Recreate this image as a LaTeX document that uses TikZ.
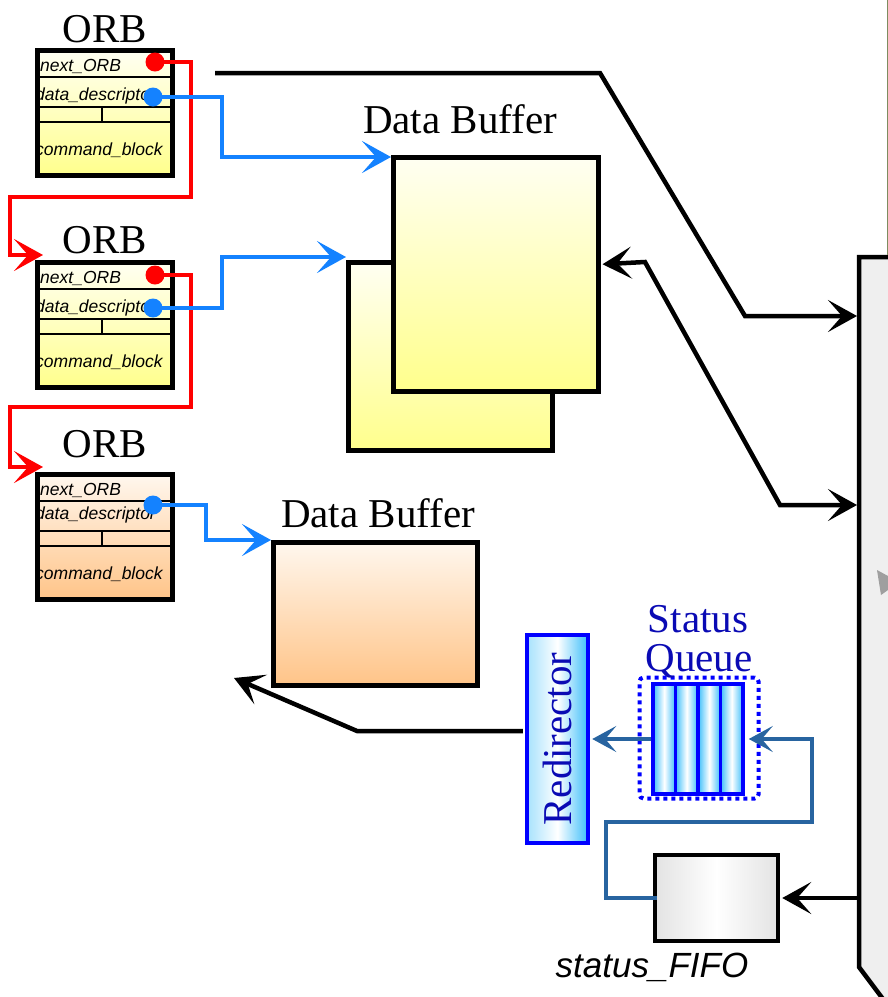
\documentclass[tikz,border=0pt]{standalone}
\usepackage{fontspec}
\setmainfont{Liberation Serif}
\setsansfont{Liberation Sans}
\usetikzlibrary{arrows.meta,positioning}
\definecolor{orbtop}{RGB}{255,255,242}
\definecolor{orbbot}{RGB}{255,255,140}
\definecolor{peachtop}{RGB}{255,247,238}
\definecolor{peachbot}{RGB}{255,196,136}
\definecolor{ptrblue}{RGB}{20,130,255}
\definecolor{steel}{RGB}{40,100,160}
\definecolor{qcyan}{RGB}{60,190,250}
\definecolor{qtext}{RGB}{10,10,180}
\definecolor{ctlgray}{RGB}{239,239,239}
\definecolor{edgeolive}{RGB}{125,140,95}
\tikzset{
    orb box/.style={
        draw,line width=5pt,
        minimum width=135pt,minimum height=125pt,
        inner sep=0pt,anchor=north west
    },
    buffer box/.style={
        draw,line width=4.5pt,
        inner sep=0pt,anchor=north west,
        top color=orbtop,bottom color=orbbot
    },
    row line/.style={line width=1.6pt},
    field text/.style={
        font=\sffamily\itshape\fontsize{17.5}{19}\selectfont,
        inner sep=0pt,anchor=base west
    },
    title text/.style={font=\fontsize{41}{45}\selectfont,inner sep=0pt,anchor=base},
    queue text/.style={title text,text=qtext},
    dot/.style={circle,inner sep=0pt,minimum size=19pt},
    next link/.style={red,line width=4.5pt},
    desc link/.style={ptrblue,line width=4.5pt},
    ctl link/.style={black,line width=4.5pt},
    status link/.style={steel,line width=4pt,
        -{Stealth[length=24pt,width=26pt,inset=11pt]}},
    queue bar/.style={
        draw=blue,line width=3.5pt,
        minimum width=22.5pt,minimum height=110pt,inner sep=0pt,
        left color=qcyan,right color=qcyan,middle color=white
    },
}

\begin{document}
\begin{tikzpicture}[x=1pt,y=-1pt,
    >={Stealth[length=29pt,width=32pt,inset=14pt]}]
    \useasboundingbox (0,0) rectangle (888,997);
    \clip (0,0) rectangle (888,997);

    % controller on the right edge
    \filldraw[fill=ctlgray,line width=4.5pt] (859,257) -- (859,967) -- (904,1027)
        -- (960,967) -- (960,257) -- cycle;
    \draw[edgeolive,line width=1pt] (887,0) -- (887,255);
    \fill[gray!75] (877,570) -- (888,576) -- (888,590) -- (881,595) -- cycle;
    \coordinate (ctlA) at (857,316);
    \coordinate (ctlB) at (857,505);
    \coordinate (ctlC) at (857,898);

    % ORB chain
    \foreach \n/\y/\ct/\cb/\dd/\g in {orbA/48/orbtop/orbbot/52/6,
                                      orbB/260/orbtop/orbbot/52/7,
                                      orbC/472/peachtop/peachbot/47/15}{
        \node[orb box,top color=\ct,bottom color=\cb] (\n) at (35,\y) {};
        \draw[row line] ([yshift=-29pt]\n.north west) -- ([yshift=-29pt]\n.north east);
        \draw[row line] ([yshift=-59pt]\n.north west) -- ([yshift=-59pt]\n.north east);
        \draw[row line] ([yshift=-74pt]\n.north west) -- ([yshift=-74pt]\n.north east);
        \draw[row line] ([xshift=67pt,yshift=-59pt]\n.north west)
            -- ([xshift=67pt,yshift=-74pt]\n.north west);
        \node[field text] (\n-next) at ([xshift=5pt,yshift=-23pt]\n.north west) {next\_ORB};
        \node[field text] (\n-desc) at ([xshift=0pt,yshift=-\dd pt]\n.north west) {data\_descriptor};
        \node[field text] (\n-cmd) at ([xshift=0pt,yshift=-107pt]\n.north west) {command\_block};
        \node[title text] (\n-lbl) at ([yshift=\g pt]\n.north) {ORB};
    }

    % data buffers
    \node[buffer box,minimum width=204pt,minimum height=188pt] (bufB) at (346,260) {};
    \node[buffer box,minimum width=205pt,minimum height=234pt] (bufA) at (391,155) {};
    \node[buffer box,minimum width=204pt,minimum height=143pt,
        top color=peachtop,bottom color=peachbot] (bufC) at (271,540) {};
    \node[title text] (bufAlbl) at (460,133) {Data Buffer};
    \node[title text] (bufClbl) at (378,527) {Data Buffer};

    % pointers
    \draw[next link,->] (155,62) -- (191,62) -- (191,197) -- (10,197) -- (10,255)
        -- ([xshift=8pt,yshift=5pt]orbB.north west);
    \draw[next link,->] (155,275) -- (191,275) -- (191,407) -- (10,407) -- (10,467)
        -- ([xshift=8pt,yshift=5pt]orbC.north west);
    \draw[desc link,->] (153,97) -| (222,157) -- ([yshift=-2pt]bufA.north west);
    \draw[desc link,->] (153,308) -| (222,257) -- ([yshift=3pt]bufB.north west);
    \draw[desc link,->] (153,505) -| (206,540) -- (bufC.north west);
    \node[dot,fill=red] (nxA) at (155,62) {};
    \node[dot,fill=red] (nxB) at (155,275) {};
    \node[dot,fill=ptrblue] (ddA) at (153,97) {};
    \node[dot,fill=ptrblue] (ddB) at (153,308) {};
    \node[dot,fill=ptrblue] (ddC) at (153,505) {};

    % status path
    \node[draw=blue,line width=4.5pt,inner sep=0pt,
        minimum width=61pt,minimum height=208pt,
        left color=qcyan!45,right color=qcyan,middle color=white] (redir) at (557.5,739) {};
    \node[queue text,rotate=90,anchor=center] (redirlbl) at (redir.center) {Redirector};
    \node[draw=blue,line width=4pt,dash pattern=on 4pt off 4pt,rounded corners=4pt,
        minimum width=119pt,minimum height=121pt,inner sep=0pt] (squeue) at (699,738) {};
    \foreach \i/\name in {0/qbarA,1/qbarB,2/qbarC,3/qbarD}
        \node[queue bar] (\name) at (664.25+22.5*\i,739) {};
    \node[queue text] (sqlblA) at (698,632) {Status};
    \node[queue text] (sqlblB) at (699,671) {Queue};
    \node[draw,line width=4.5pt,inner sep=0pt,minimum width=123pt,minimum height=86pt,
        left color=gray!22,right color=gray!22,middle color=white] (fifo) at (716.5,898) {};
    \node[font=\sffamily\itshape\fontsize{35}{40}\selectfont,inner sep=0pt,anchor=base]
        (fifolbl) at (652,977) {status\_FIFO};

    % host side links
    \coordinate (hostOut) at (215,73);
    \coordinate (retC) at (234,678);
    \draw[ctl link,->] (hostOut) -- (600,73) -- (745,316) -- (ctlA);
    \draw[ctl link,<->] ([xshift=2pt,yshift=10pt]bufA.east) -- (645,262) -- (780,505) -- (ctlB);
    \draw[ctl link,->] (ctlC) -- ([xshift=2pt]fifo.east);
    \draw[ctl link,->] ([xshift=-2pt,yshift=8pt]redir.west) -- (357,731) -- (retC);
    \draw[status link] ([xshift=4pt]fifo.west) -- (606,898) -- (606,822) -- (812,822)
        -- (812,739) -- ([xshift=4pt]qbarD.east);
    \draw[status link] (qbarA.west) -- ([xshift=2pt]redir.east);
\end{tikzpicture}
\end{document}
